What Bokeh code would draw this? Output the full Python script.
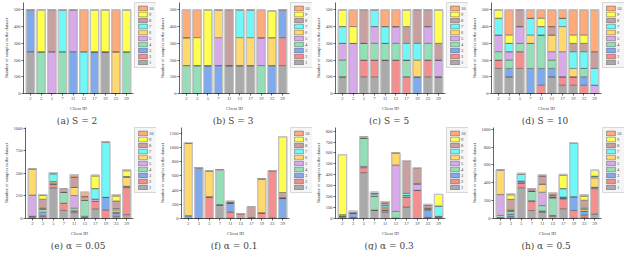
from bokeh.plotting import figure
from bokeh.models import ColumnDataSource, Legend, LegendItem, Title, FixedTicker, Range1d, FactorRange
from bokeh.layouts import row, column
from bokeh.embed import file_html
from bokeh.resources import INLINE

clients = ["2", "3", "5", "7", "11", "13", "17", "19", "23", "29"]
classes = ["1", "2", "3", "4", "5", "6", "7", "8", "9", "10"]
colors = ["#aaaaaa", "#f58f8f", "#80aaee", "#95dfb8", "#d8aaec",
          "#ffd86e", "#70f8f8", "#c8a0a0", "#ffff50", "#ffab7a"]

# rows = class 1..10, columns = clients
counts_a = [
    [250, 0, 0, 0, 0, 0, 0, 250, 0, 0],
    [0, 0, 0, 0, 0, 0, 0, 0, 0, 0],
    [250, 0, 0, 0, 250, 0, 250, 0, 0, 0],
    [0, 250, 0, 250, 0, 0, 0, 0, 0, 250],
    [0, 0, 250, 0, 250, 0, 0, 0, 0, 0],
    [0, 0, 0, 0, 0, 0, 0, 0, 250, 0],
    [0, 0, 0, 250, 0, 250, 0, 0, 0, 0],
    [0, 0, 250, 0, 0, 0, 0, 0, 0, 0],
    [0, 250, 0, 0, 0, 0, 250, 250, 0, 250],
    [0, 0, 0, 0, 0, 250, 0, 0, 250, 0],
]
counts_b = [
    [0, 0, 0, 0, 167, 167, 167, 0, 0, 167],
    [0, 0, 0, 0, 0, 0, 0, 0, 0, 167],
    [0, 0, 167, 167, 0, 0, 0, 0, 167, 166],
    [167, 167, 0, 0, 0, 0, 0, 167, 0, 0],
    [0, 0, 0, 167, 0, 0, 0, 167, 0, 0],
    [167, 0, 0, 166, 0, 167, 167, 0, 167, 0],
    [0, 0, 0, 0, 0, 166, 166, 0, 0, 0],
    [0, 0, 0, 0, 333, 0, 0, 0, 0, 0],
    [0, 167, 333, 0, 0, 0, 0, 0, 160, 0],
    [166, 166, 0, 0, 0, 0, 0, 166, 0, 0],
]
counts_c = [
    [100, 0, 100, 100, 200, 0, 0, 0, 100, 100],
    [0, 0, 100, 100, 0, 200, 100, 0, 100, 0],
    [0, 0, 0, 0, 0, 0, 0, 100, 0, 0],
    [100, 0, 100, 100, 100, 100, 100, 0, 100, 0],
    [100, 300, 0, 100, 0, 100, 0, 0, 100, 100],
    [0, 0, 0, 0, 0, 0, 0, 100, 0, 0],
    [100, 0, 0, 100, 100, 0, 100, 100, 0, 0],
    [0, 0, 200, 0, 0, 0, 100, 200, 100, 100],
    [100, 100, 0, 0, 0, 0, 100, 0, 0, 200],
    [0, 100, 0, 0, 100, 100, 0, 0, 0, 0],
]
counts_d = [
    [150, 100, 150, 0, 0, 100, 50, 50, 0, 0],
    [50, 0, 100, 0, 50, 0, 50, 50, 50, 0],
    [0, 50, 0, 150, 100, 50, 0, 0, 50, 0],
    [50, 50, 50, 150, 200, 50, 0, 0, 50, 0],
    [100, 50, 100, 0, 0, 50, 150, 0, 0, 50],
    [0, 0, 0, 50, 0, 100, 150, 50, 0, 0],
    [100, 50, 0, 100, 50, 0, 50, 100, 100, 100],
    [0, 0, 100, 0, 0, 50, 0, 50, 50, 100],
    [50, 50, 0, 0, 50, 0, 0, 50, 50, 0],
    [0, 150, 0, 50, 50, 100, 50, 150, 150, 250],
]
counts_e = [
    [10, 20, 340, 90, 65, 10, 107, 0, 5, 43],
    [15, 10, 40, 80, 20, 0, 83, 95, 20, 300],
    [0, 40, 0, 0, 0, 15, 0, 140, 35, 10],
    [0, 30, 0, 120, 30, 175, 0, 0, 10, 5],
    [235, 0, 15, 0, 140, 0, 25, 0, 0, 0],
    [290, 15, 15, 0, 90, 0, 0, 0, 25, 97],
    [0, 0, 85, 0, 0, 0, 117, 610, 15, 10],
    [0, 100, 15, 37, 110, 43, 0, 5, 85, 0],
    [0, 40, 0, 0, 5, 0, 140, 0, 55, 65],
    [0, 10, 0, 0, 25, 50, 10, 0, 15, 10],
]
counts_f = [
    [0, 0, 0, 185, 5, 0, 10, 0, 10, 0],
    [0, 0, 305, 0, 85, 65, 0, 80, 660, 0],
    [40, 710, 0, 10, 130, 0, 0, 0, 0, 280],
    [0, 0, 0, 485, 0, 0, 0, 0, 0, 10],
    [0, 0, 0, 0, 0, 0, 0, 0, 0, 0],
    [1015, 0, 355, 0, 0, 0, 0, 470, 0, 0],
    [0, 0, 0, 0, 0, 0, 0, 0, 0, 0],
    [10, 0, 10, 0, 15, 0, 150, 5, 0, 75],
    [0, 0, 0, 0, 0, 0, 0, 0, 0, 785],
    [0, 0, 0, 0, 10, 0, 0, 0, 0, 0],
]
counts_g = [
    [8, 10, 420, 78, 60, 5, 105, 0, 10, 10],
    [0, 0, 45, 0, 15, 0, 90, 258, 0, 0],
    [0, 40, 12, 0, 0, 0, 0, 0, 65, 0],
    [15, 0, 260, 125, 0, 60, 15, 0, 10, 0],
    [0, 0, 0, 0, 15, 425, 0, 60, 0, 10],
    [0, 0, 0, 15, 15, 110, 0, 0, 10, 0],
    [12, 0, 0, 12, 15, 0, 20, 0, 0, 95],
    [0, 15, 8, 0, 20, 0, 300, 140, 30, 0],
    [550, 0, 0, 10, 5, 0, 0, 0, 0, 105],
    [0, 0, 0, 0, 10, 0, 0, 5, 5, 0],
]
counts_h = [
    [0, 20, 345, 90, 75, 25, 110, 5, 15, 50],
    [10, 0, 55, 100, 0, 10, 110, 85, 25, 285],
    [0, 30, 0, 10, 10, 0, 10, 155, 40, 15],
    [25, 30, 0, 107, 60, 195, 0, 0, 0, 0],
    [233, 0, 20, 0, 150, 10, 10, 0, 0, 0],
    [277, 15, 0, 0, 90, 0, 0, 0, 20, 105],
    [0, 0, 75, 0, 0, 0, 95, 605, 15, 20],
    [0, 120, 10, 25, 93, 25, 0, 0, 90, 0],
    [0, 50, 0, 0, 0, 0, 150, 0, 45, 65],
    [0, 10, 0, 0, 10, 25, 10, 0, 15, 0],
]

tags = ["(a)", "(b)", "(c)", "(d)", "(e)", "(f)", "(g)", "(h)"]
captions = ["S = 2", "S = 3", "S = 5", "S = 10", "α = 0.05", "α = 0.1", "α = 0.3", "α = 0.5"]
all_counts = [counts_a, counts_b, counts_c, counts_d, counts_e, counts_f, counts_g, counts_h]
y_max = [544, 544, 544, 544, 1010, 1278, 833, 1020]
y_ticks = [
    [0, 100, 200, 300, 400, 500],
    [0, 100, 200, 300, 400, 500],
    [0, 100, 200, 300, 400, 500],
    [0, 100, 200, 300, 400, 500],
    [0, 250, 500, 750, 1000],
    [0, 200, 400, 600, 800, 1000, 1200],
    [0, 100, 200, 300, 400, 500, 600, 700, 800],
    [0, 200, 400, 600, 800, 1000],
]

SERIF = "Liberation Serif"
H = 125


def make_panel(k):
    counts = all_counts[k]
    data = {"client": clients}
    keys = ["c" + c for c in classes]
    for i, key in enumerate(keys):
        data[key] = counts[i]
    data["total"] = [sum(counts[i][j] for i in range(10)) for j in range(len(clients))]
    src = ColumnDataSource(data)
    p = figure(x_range=FactorRange(*clients, range_padding=0.03),
               y_range=Range1d(0, y_max[k]),
               width=134, height=H, output_backend="svg", toolbar_location=None,
               min_border_left=0, min_border_right=1, min_border_top=2, min_border_bottom=0)
    p.vbar_stack(keys, x="client", width=0.78, fill_color=colors,
                 line_color="#555555", line_width=0.5, source=src)
    p.vbar(x="client", top="total", width=0.78, fill_color=None,
           line_color="#c4c4c4", line_width=1.2, source=src)
    p.yaxis.ticker = FixedTicker(ticks=y_ticks[k])
    for ax in (p.xaxis, p.yaxis):
        ax.major_label_text_font_size = "4.5px"
        ax.major_label_text_font = SERIF
        ax.axis_label_text_font = SERIF
        ax.axis_label_text_font_size = "4.5px"
        ax.axis_label_text_font_style = "normal"
        ax.axis_line_width = 0.6
        ax.major_tick_line_width = 0.6
        ax.major_tick_out = 2
        ax.major_tick_in = 0
        ax.minor_tick_out = 0
        ax.minor_tick_in = 0
        ax.major_label_standoff = 1
        ax.axis_label_standoff = 2
    p.xaxis.axis_label_standoff = 3
    p.xaxis.axis_label = "Client ID"
    p.yaxis.axis_label = "Number of samples in the dataset"
    p.xgrid.visible = False
    p.ygrid.visible = False
    p.outline_line_color = None
    p.add_layout(Title(text=tags[k] + "  " + captions[k], align="center",
                       text_font_size="9px", text_font="DejaVu Serif",
                       text_font_style="normal", standoff=0), "below")

    # legend in its own narrow figure; its swatch glyphs are zero-size bars
    # placed outside the visible ranges, so only the legend shows
    lf = figure(width=22, height=H, output_backend="svg", toolbar_location=None,
                x_range=Range1d(0, 1), y_range=Range1d(1, 2),
                min_border_left=0, min_border_right=0, min_border_top=1, min_border_bottom=0)
    lf.axis.visible = False
    lf.xgrid.visible = False
    lf.ygrid.visible = False
    lf.outline_line_color = None
    swatch = ColumnDataSource({"x": [50], "top": [-50]})
    lrs = [lf.vbar(x="x", top="top", bottom="top", width=0, fill_color=colors[i],
                   line_color="#555555", line_width=0.5, source=swatch) for i in range(10)]
    items = [LegendItem(label=classes[i], renderers=[lrs[i]]) for i in reversed(range(10))]
    leg = Legend(items=items, location="top_left", glyph_height=6, glyph_width=11,
                 label_width=4, label_height=6, spacing=0, padding=2, margin=0,
                 label_standoff=1, label_text_font_size="4.5px", label_text_font=SERIF,
                 border_line_color="#bbbbbb", border_line_width=0.8,
                 background_fill_color="#f4f4f4")
    lf.add_layout(leg)
    return row(p, lf)


cells = [make_panel(k) for k in range(8)]
lay = column(row(*cells[:4]), row(*cells[4:]))
open("out.html", "w").write(file_html(lay, INLINE))
